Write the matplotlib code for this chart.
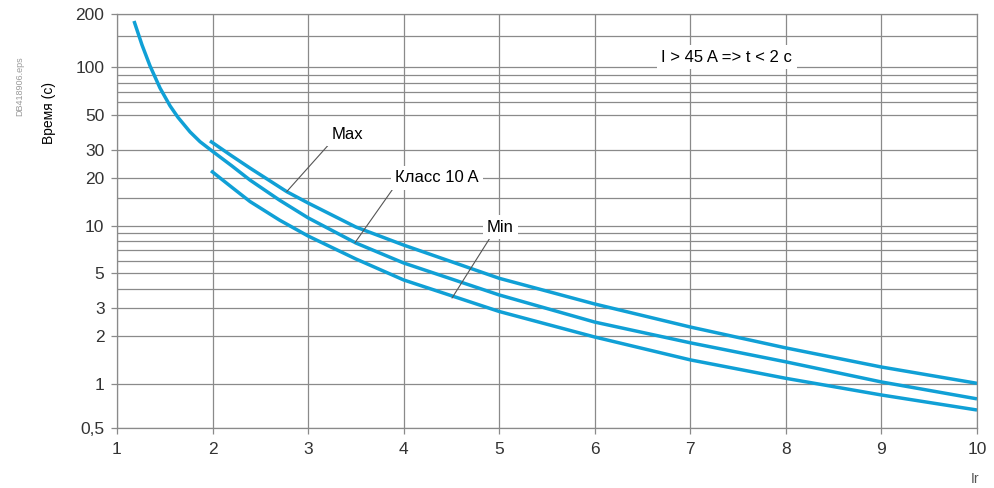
import numpy as np
import matplotlib
matplotlib.use('Agg')
import matplotlib.pyplot as plt

plt.rcParams['font.family'] = ['Liberation Sans', 'DejaVu Sans']

# Tripping curve data (Ir multiple -> time in seconds)
class10_x = [1.178, 1.262, 1.345, 1.45, 1.555, 1.638, 1.764, 1.869, 2.005, 2.2, 2.392, 2.7, 3.0, 3.5, 4.0, 5.0, 6.0, 7.0, 8.0, 9.0, 10.0]
class10_t = [182.6, 133.6, 102.0, 74.0, 57.1, 48.3, 39.1, 33.9, 29.3, 23.9, 19.4, 14.5, 11.2, 7.77, 5.81, 3.65, 2.46, 1.82, 1.38, 1.03, 0.79]

max_x = [1.973, 2.2, 2.392, 2.776, 3.0, 3.5, 4.0, 5.0, 6.0, 7.0, 8.0, 9.0, 10.0]
max_t = [34.3, 27.6, 23.1, 16.4, 13.9, 9.8, 7.54, 4.65, 3.2, 2.29, 1.69, 1.28, 1.01]

min_x = [1.984, 2.2, 2.392, 2.7, 3.0, 3.5, 4.0, 5.0, 6.0, 7.0, 8.0, 9.0, 10.0]
min_t = [22.2, 17.5, 14.2, 10.85, 8.6, 6.16, 4.54, 2.87, 1.98, 1.42, 1.086, 0.84, 0.662]

x_ticks = [1, 2, 3, 4, 5, 6, 7, 8, 9, 10]
y_ticks = [0.5, 1, 2, 3, 5, 10, 20, 30, 50, 100, 200]
y_labels = ['0,5', '1', '2', '3', '5', '10', '20', '30', '50', '100', '200']
y_minor = [4, 6, 7, 8, 9, 15, 60, 70, 80, 90, 150]

# the original axis is a slightly stretched log scale at its ends
LOG_KNOTS = np.log10([0.5, 1, 100, 200])
PIX = [0, 43.7, 360.4, 413.7]


def fwd(v):
    v = np.clip(np.asarray(v, dtype=float), 1e-6, None)
    return np.interp(np.log10(v), LOG_KNOTS, PIX)


def inv(u):
    return 10 ** np.interp(np.asarray(u, dtype=float), PIX, LOG_KNOTS)


fig = plt.figure(figsize=(9.95, 4.88), dpi=100)
ax = fig.add_axes([117 / 995, 60.3 / 488, 860 / 995, 413.7 / 488])

ax.set_yscale('function', functions=(fwd, inv))
ax.set_xlim(1, 10)
ax.set_ylim(0.5, 200)

grid_col = '#8a8a8a'
ax.set_xticks(x_ticks)
ax.set_yticks(y_ticks)
ax.set_yticklabels(y_labels)
ax.set_yticks(y_minor, minor=True)
ax.grid(True, which='both', color=grid_col, lw=0.9)
ax.set_axisbelow(True)
ax.tick_params(which='major', length=4, width=0.9, color=grid_col,
               labelsize=12.5, labelcolor='#333333')
ax.tick_params(axis='y', pad=5)
ax.tick_params(axis='x', pad=6.5)
ax.tick_params(which='minor', length=0)
for s in ax.spines.values():
    s.set_color(grid_col)
    s.set_linewidth(0.9)

curve_col = '#10a0d6'
ax.plot(class10_x, class10_t, color=curve_col, lw=2.5, solid_capstyle='butt', solid_joinstyle='round')
ax.plot(max_x, max_t, color=curve_col, lw=2.5, solid_capstyle='butt', solid_joinstyle='round')
ax.plot(min_x, min_t, color=curve_col, lw=2.5, solid_capstyle='butt', solid_joinstyle='round')

box = dict(fc='white', ec='none', pad=3)
lead = dict(arrowstyle='-', color='#555555', lw=0.8, shrinkA=0, shrinkB=0)
ax.annotate('Max', xy=(2.776, 16.4), xytext=(3.41, 37.9), ha='center', va='center',
            fontsize=12, bbox=box, arrowprops=dict(lead, relpos=(0, 0)))
ax.annotate('Класс 10 A', xy=(3.49, 7.8), xytext=(4.35, 20.0), ha='center', va='center',
            fontsize=12, bbox=box, arrowprops=dict(lead, relpos=(0, 0)))
ax.annotate('Min', xy=(4.506, 3.49), xytext=(5.01, 9.8), ha='center', va='center',
            fontsize=12, bbox=box, arrowprops=dict(lead, relpos=(0.2, 0)))
ax.text(7.383, 114.3, 'I > 45 A => t < 2 c', ha='center', va='center',
        fontsize=12, bbox=box)

fig.text(49 / 995, 1 - 113 / 488, 'Время (с)', rotation=90, ha='center', va='center', fontsize=10)
fig.text(20 / 995, 1 - 86 / 488, 'DB418906.eps', rotation=90, ha='center', va='center',
         fontsize=6.5, color='#9a9a9a')
fig.text(975 / 995, 1 - 479 / 488, 'Ir', ha='center', va='center', fontsize=10, color='#555555')

fig.savefig('out.png', dpi=100)
